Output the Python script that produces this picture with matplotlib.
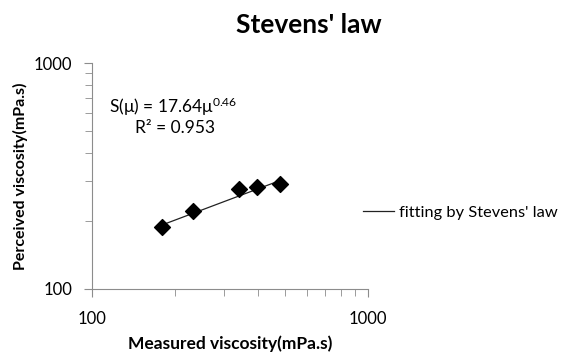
import matplotlib
matplotlib.use('Agg')
import matplotlib.pyplot as plt
import numpy as np

plt.rcParams['font.family'] = ['Lato', 'DejaVu Sans']
plt.rcParams['mathtext.fontset'] = 'custom'
plt.rcParams['mathtext.rm'] = 'Lato'
plt.rcParams['mathtext.it'] = 'Lato'

measured = [179, 233, 341, 397, 480]
perceived = [189, 221, 278, 283, 292]
coef = 17.64
expo = 0.46

fig = plt.figure(figsize=(5.66, 3.57), dpi=100)
ax = fig.add_axes([0.1625, 0.1905, 0.4875, 0.633])

ax.set_xscale('log')
ax.set_yscale('log')
ax.set_xlim(100, 1000)
ax.set_ylim(100, 1000)

xs = np.linspace(min(measured), max(measured), 50)
ax.plot(xs, coef * xs ** expo, color='#222222', lw=0.9, label="fitting by Stevens' law")
ax.scatter(measured, perceived, marker='D', s=65, color='black', zorder=3)

grey = '#8c8c8c'
for s in ['top', 'right']:
    ax.spines[s].set_visible(False)
for s in ['left', 'bottom']:
    ax.spines[s].set_color(grey)
ax.tick_params(which='both', color=grey, direction='out', labelsize=12)
ax.tick_params(which='major', length=6)
ax.tick_params(which='minor', length=5)
ax.yaxis.set_minor_formatter(plt.NullFormatter())
ax.xaxis.set_minor_formatter(plt.NullFormatter())
ax.set_xticks([100, 1000])
ax.set_xticklabels(['100', '1000'])
ax.set_yticks([100, 1000])
ax.set_yticklabels(['100', '1000'])
ax.tick_params(axis='x', pad=10)
ax.tick_params(axis='y', pad=8)

ax.set_xlabel('Measured viscosity(mPa.s)', fontsize=12.5, fontweight='bold', labelpad=6)
ax.set_ylabel('Perceived viscosity(mPa.s)', fontsize=11.5, fontweight='bold', labelpad=4)

fig.text(0.545, 0.93, "Stevens' law", fontsize=19, fontweight='bold', ha='center', va='center')

fig.text(0.192, 0.70, r"S(μ) = 17.64μ$^{0.46}$", fontsize=12.5, va='center')
fig.text(0.238, 0.641, "R² = 0.953", fontsize=12.5, va='center')

fig.legend(loc='center left', bbox_to_anchor=(0.615, 0.405), frameon=False,
           fontsize=11.8, handlelength=1.9, handletextpad=0.3)

fig.savefig('out.png', dpi=100)
